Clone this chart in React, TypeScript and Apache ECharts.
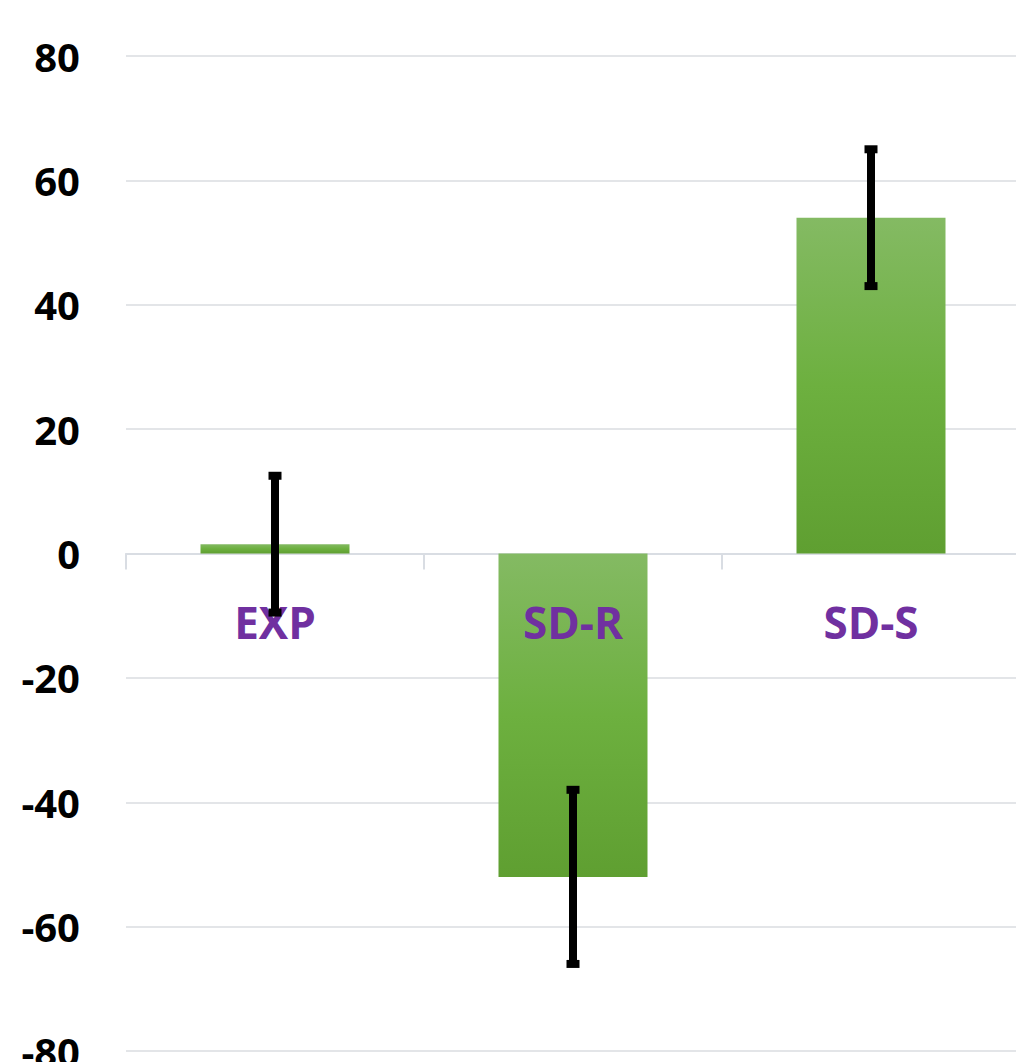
import React, { useEffect, useRef } from "react";
import * as echarts from "echarts";

const categories = ["EXP", "SD-R", "SD-S"];
const means = [1.5, -52, 54];
const errors = [11, 14, 11];
const yTicks = { min: -80, max: 80, interval: 20 };

const FONT = "'Open Sans', 'Liberation Sans', sans-serif";

export default function App() {
  const ref = useRef<HTMLDivElement>(null);
  useEffect(() => {
    if (!ref.current) return;
    const chart = echarts.init(ref.current, null, { renderer: "svg" });
    const errData = categories.map((c, i) => [i, means[i] - errors[i], means[i] + errors[i]]);
    const labelData = categories.map((c, i) => [i, 0]);
    chart.setOption({
      animation: false,
      grid: { left: 126, right: -4, top: 56, bottom: 11, containLabel: false, outerBoundsMode: "none" },
      xAxis: {
        type: "category",
        data: categories,
        axisLine: { show: true, onZero: true, lineStyle: { color: "#D9DDE3", width: 2 } },
        axisTick: { show: true, length: 16, lineStyle: { color: "#D9DDE3", width: 2 } },
        axisLabel: { show: false },
        z: 1,
      },
      yAxis: {
        type: "value",
        min: yTicks.min,
        max: yTicks.max,
        interval: yTicks.interval,
        axisLine: { show: false },
        axisTick: { show: false },
        axisLabel: {
          color: "#000",
          fontFamily: FONT,
          fontWeight: "bold",
          fontSize: 40,
          margin: 46,
        },
        splitLine: { lineStyle: { color: "#E3E5E8", width: 2 } },
      },
      series: [
        {
          type: "bar",
          data: means,
          barWidth: "50%",
          z: 2,
          itemStyle: {
            color: new echarts.graphic.LinearGradient(0, 0, 0, 1, [
              { offset: 0, color: "#84BA63" },
              { offset: 0.5, color: "#6DB03F" },
              { offset: 1, color: "#5F9F31" },
            ]),
          },
        },
        {
          type: "custom",
          z: 4,
          data: labelData,
          renderItem: (params: any, api: any) => {
            const p = api.coord([api.value(0), api.value(1)]);
            return {
              type: "text",
              x: p[0],
              y: p[1] + 68,
              style: {
                text: categories[params.dataIndex],
                fill: "#7030A0",
                font: `bold 44px ${FONT}`,
                align: "center",
                verticalAlign: "middle",
              },
            };
          },
        },
        {
          type: "custom",
          z: 5,
          data: errData,
          renderItem: (params: any, api: any) => {
            const x = api.value(0);
            const lo = api.coord([x, api.value(1)]);
            const hi = api.coord([x, api.value(2)]);
            const cx = lo[0];
            return {
              type: "group",
              children: [
                {
                  type: "line",
                  shape: { x1: cx, y1: hi[1], x2: cx, y2: lo[1] },
                  style: { stroke: "#000", lineWidth: 8 },
                },
                {
                  type: "rect",
                  shape: { x: cx - 6.5, y: hi[1] - 4, width: 13, height: 8 },
                  style: { fill: "#000" },
                },
                {
                  type: "rect",
                  shape: { x: cx - 6.5, y: lo[1] - 4, width: 13, height: 8 },
                  style: { fill: "#000" },
                },
              ],
            };
          },
        },
      ],
    });
    return () => chart.dispose();
  }, []);
  return (
    <div
      ref={ref}
      style={{ position: "absolute", left: 0, top: 0, width: 1016, height: 1062, background: "#fff" }}
    />
  );
}
